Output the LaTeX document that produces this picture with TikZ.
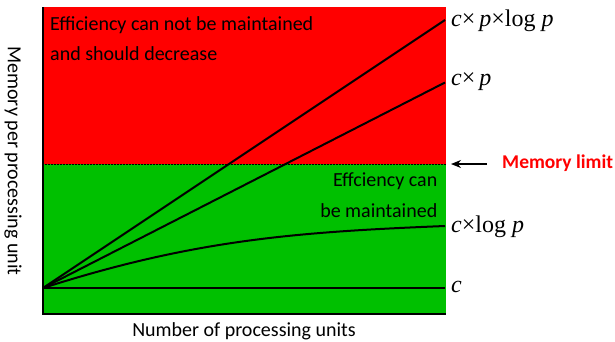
\documentclass[tikz,border=0pt]{standalone}
\usepackage{fontspec}
\setmainfont{Carlito}
\newfontfamily\mathlabel{Liberation Serif}
\usetikzlibrary{arrows.meta}
\definecolor{zonered}{RGB}{255,0,0}
\definecolor{zonegreen}{RGB}{0,192,0}
\newcommand{\vr}[1]{{\itshape #1}}
\begin{document}
\begin{tikzpicture}[x=1pt,y=-1pt,
  txt/.style={inner sep=0pt, font=\fontsize{20}{24}\selectfont},
  mlab/.style={inner sep=0pt, anchor=base west, font=\fontsize{24}{28}\selectfont\mathlabel},
  growth/.style={line width=2pt, black},
  axisline/.style={line width=2.5pt, black}]
\useasboundingbox (0,0) rectangle (615,341);

% regions above and below the memory limit
\fill[zonered] (42,7) rectangle (445.5,164);
\fill[zonegreen] (42,164) rectangle (445.5,314);
\coordinate (limL) at (42,164);
\coordinate (limR) at (445.5,164);
\draw[line width=0.7pt, dash pattern=on 2pt off 1pt] (limL) -- (limR);

% growth curves
\coordinate (o) at (43,288);
\coordinate (e1) at (445,20);
\coordinate (e2) at (445,82.5);
\coordinate (e3) at (445,226);
\coordinate (e4) at (445,288);
\draw[growth] (o) -- (e1);
\draw[growth] (o) -- (e2);
\draw[growth] (o) .. controls (193,240) and (295,232) .. (e3);
\draw[growth] (o) -- (e4);

% axes
\coordinate (ytop) at (43,7);
\coordinate (corner) at (43,314);
\coordinate (xend) at (445.5,314);
\draw[axisline] (ytop) -- (corner) -- (xend);

% curve labels
\node[mlab] (l1) at (451,26) {\vr{c}×\,\vr{p}×log \vr{p}};
\node[mlab] (l2) at (451,85) {\vr{c}×\,\vr{p}};
\node[mlab] (l3) at (451,232) {\vr{c}×log \vr{p}};
\node[mlab] (l4) at (451,292) {\vr{c}};

% region texts
\node[txt, anchor=base west] (r1) at (50,30) {Efficiency can not be maintained};
\node[txt, anchor=base west] (r2) at (50,60) {and should decrease};
\node[txt, anchor=base east] (g1) at (437.5,186.5) {Effciency can};
\node[txt, anchor=base east] (g2) at (437.5,217) {be maintained};

% memory limit marker
\node[txt, anchor=base west, text=zonered, font=\fontsize{19.5}{24}\selectfont\bfseries] (ml) at (502,168) {Memory limit};
\coordinate (arrstart) at (487,164);
\coordinate (arrend) at (451,164);
\draw[line width=1.5pt, -{Stealth[length=10pt,width=8pt]}] (arrstart) -- (arrend);

% axis titles
\node[txt, anchor=base] (xlab) at (244,336) {Number of processing units};
\node[txt, anchor=base, rotate=-90] (ylab) at (8,161) {Memory per processing unit};
\end{tikzpicture}
\end{document}
